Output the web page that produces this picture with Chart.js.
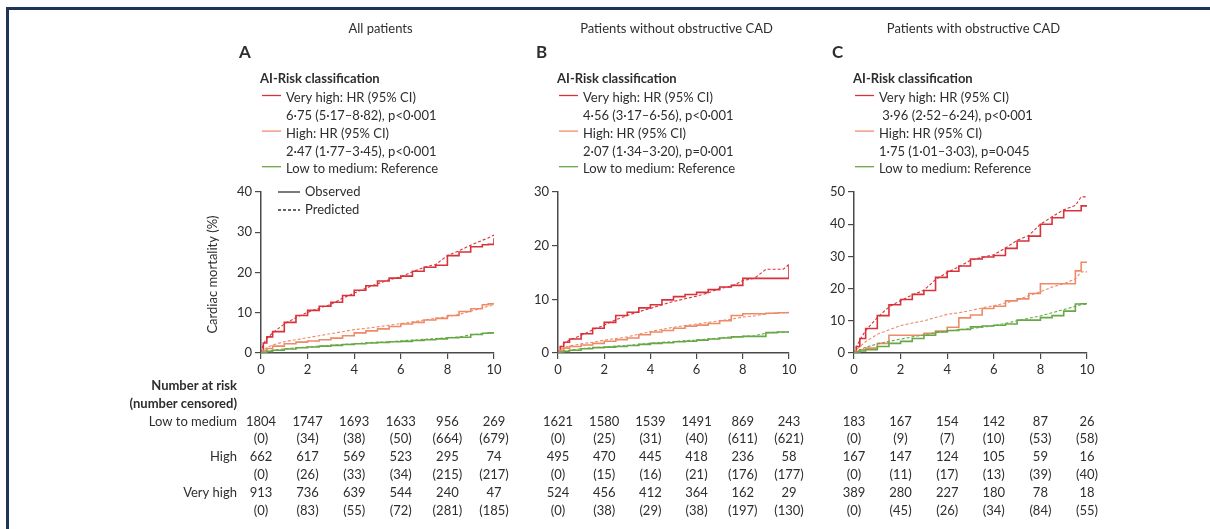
<!DOCTYPE html>
<html>
<head>
<meta charset="utf-8">
<script src="https://cdn.jsdelivr.net/npm/chart.js@4.4.1/dist/chart.umd.min.js"></script>
<style>
  html, body { margin: 0; padding: 0; background: #fff; }
  #page { position: relative; width: 1210px; height: 529px; overflow: hidden; background: #fff; }
  #frame { position: absolute; left: 6px; top: 7px; width: 1220px; height: 540px;
           border-top: 3px solid #1e3458; border-left: 3px solid #1e3458; }
  canvas { position: absolute; left: 0; top: 0; }
</style>
</head>
<body>
<div id="page">
  <div id="frame"></div>
  <canvas id="panelA" width="1210" height="529"></canvas>
  <canvas id="panelB" width="1210" height="529"></canvas>
  <canvas id="panelC" width="1210" height="529"></canvas>
</div>
<script>
// Follow-up time grid (years) shared by every curve
const years = [0, 0.1, 0.25, 0.5, 1, 1.5, 2, 2.5, 3, 3.5, 4, 4.5, 5, 5.5, 6, 6.5, 7, 7.5, 8, 8.5, 9, 9.5, 9.75, 10];
const xTicks = [0, 2, 4, 6, 8, 10];

// Cumulative cardiac mortality (%) — all patients
const allVeryHighObs  = [0, 2.5, 4.0, 5.3, 7.6, 9.3, 10.6, 11.6, 12.6, 14.3, 15.6, 16.7, 17.9, 18.6, 19.1, 20.3, 21.3, 21.8, 24.2, 25.1, 26.4, 26.9, 27.0, 28.5];
const allVeryHighPred = [0, 2.2, 3.6, 5.0, 7.2, 8.8, 10.1, 11.1, 12.1, 13.6, 14.9, 16.1, 17.2, 18.2, 18.9, 20.2, 21.3, 22.0, 24.2, 25.4, 26.8, 28.0, 28.6, 29.3];
const allHighObs      = [0, 0.6, 1.1, 1.7, 2.3, 2.7, 3.0, 3.3, 3.7, 4.3, 5.0, 5.5, 6.0, 6.6, 7.2, 7.6, 8.2, 8.6, 9.3, 10.3, 11.0, 12.0, 12.2, 12.3];
const allHighPred     = [0, 0.7, 1.3, 2.0, 2.8, 3.3, 3.8, 4.3, 4.8, 5.3, 5.8, 6.1, 6.5, 6.9, 7.3, 7.7, 8.2, 8.6, 9.0, 9.6, 10.4, 11.2, 11.6, 11.9];
const allLowObs       = [0, 0.2, 0.4, 0.7, 1.0, 1.3, 1.5, 1.7, 1.9, 2.1, 2.3, 2.5, 2.6, 2.8, 2.9, 3.1, 3.3, 3.5, 3.8, 3.9, 4.6, 4.9, 5.0, 5.0];
const allLowPred      = [0, 0.2, 0.4, 0.7, 1.0, 1.3, 1.5, 1.7, 1.9, 2.1, 2.3, 2.5, 2.7, 2.8, 3.0, 3.2, 3.4, 3.6, 3.8, 4.0, 4.5, 4.8, 4.9, 5.0];

// Patients without obstructive CAD
const noCadVeryHighObs  = [0, 1.2, 2.0, 2.6, 3.6, 4.6, 5.7, 7.0, 7.6, 8.4, 9.0, 9.9, 10.5, 10.9, 11.3, 11.8, 12.3, 12.6, 13.9, 13.9, 13.9, 13.9, 13.9, 16.3];
const noCadVeryHighPred = [0, 1.0, 1.8, 2.4, 3.3, 4.3, 5.2, 6.2, 7.0, 7.7, 8.3, 9.0, 9.6, 10.1, 10.6, 11.2, 12.0, 12.4, 13.5, 13.9, 15.6, 15.6, 15.6, 16.5];
const noCadHighObs      = [0, 0.5, 0.9, 1.2, 1.5, 1.8, 2.2, 2.5, 2.8, 3.4, 3.9, 4.2, 4.6, 5.0, 5.2, 5.5, 6.0, 7.0, 7.3, 7.3, 7.4, 7.5, 7.5, 7.5];
const noCadHighPred     = [0, 0.6, 1.0, 1.3, 1.7, 2.0, 2.4, 2.7, 3.0, 3.5, 4.0, 4.4, 4.8, 5.1, 5.4, 5.7, 6.0, 6.3, 6.7, 6.9, 7.3, 7.5, 7.5, 7.6];
const noCadLowObs       = [0, 0.2, 0.3, 0.5, 0.8, 1.0, 1.1, 1.2, 1.4, 1.6, 1.8, 1.9, 2.1, 2.2, 2.4, 2.6, 2.8, 3.0, 3.1, 3.1, 3.8, 3.9, 3.9, 3.9];
const noCadLowPred      = [0, 0.2, 0.3, 0.5, 0.8, 1.0, 1.1, 1.3, 1.4, 1.6, 1.8, 2.0, 2.1, 2.3, 2.4, 2.6, 2.8, 3.0, 3.1, 3.2, 3.7, 3.9, 3.9, 3.9];

// Patients with obstructive CAD
const cadVeryHighObs  = [0, 2.0, 4.5, 7.6, 11.6, 15.0, 16.6, 18.2, 19.4, 23.5, 25.4, 27.0, 29.2, 29.8, 30.3, 32.5, 34.8, 36.3, 40.0, 42.0, 44.2, 44.2, 45.7, 45.7];
const cadVeryHighPred = [0, 1.8, 4.0, 7.0, 11.0, 14.3, 16.3, 18.0, 19.5, 22.8, 25.0, 26.8, 28.8, 29.7, 30.5, 32.6, 35.0, 36.5, 40.0, 42.3, 44.5, 45.8, 48.5, 48.5];
const cadHighObs      = [0, 0.5, 1.0, 1.5, 3.0, 5.5, 5.5, 5.5, 6.1, 6.8, 8.0, 10.9, 11.8, 13.8, 14.5, 16.2, 16.8, 18.5, 21.5, 21.5, 21.5, 25.5, 28.2, 28.2];
const cadHighPred     = [0, 1.0, 2.0, 3.5, 5.8, 7.2, 8.5, 9.3, 10.0, 11.0, 12.0, 12.5, 13.2, 14.0, 14.7, 15.5, 16.5, 17.8, 19.0, 20.5, 21.5, 23.0, 25.2, 25.2];
const cadLowObs       = [0, 0.3, 0.6, 1.0, 2.0, 3.0, 3.6, 4.5, 5.5, 6.5, 7.0, 7.3, 8.1, 8.4, 8.6, 9.0, 10.2, 10.2, 11.0, 11.6, 13.0, 15.2, 15.3, 15.3];
const cadLowPred      = [0, 0.5, 1.0, 1.8, 2.8, 3.6, 4.3, 5.0, 5.6, 6.3, 6.8, 7.2, 7.6, 8.0, 8.5, 9.2, 10.0, 10.8, 11.5, 12.5, 13.5, 14.5, 15.0, 15.2];

// Number at risk / number censored at years 0, 2, 4, 6, 8, 10
const allRiskLow       = [1804, 1747, 1693, 1633, 956, 269];
const allCensLow       = [0, 34, 38, 50, 664, 679];
const allRiskHigh      = [662, 617, 569, 523, 295, 74];
const allCensHigh      = [0, 26, 33, 34, 215, 217];
const allRiskVeryHigh  = [913, 736, 639, 544, 240, 47];
const allCensVeryHigh  = [0, 83, 55, 72, 281, 185];

const noCadRiskLow      = [1621, 1580, 1539, 1491, 869, 243];
const noCadCensLow      = [0, 25, 31, 40, 611, 621];
const noCadRiskHigh     = [495, 470, 445, 418, 236, 58];
const noCadCensHigh     = [0, 15, 16, 21, 176, 177];
const noCadRiskVeryHigh = [524, 456, 412, 364, 162, 29];
const noCadCensVeryHigh = [0, 38, 29, 38, 197, 130];

const cadRiskLow       = [183, 167, 154, 142, 87, 26];
const cadCensLow       = [0, 9, 7, 10, 53, 58];
const cadRiskHigh      = [167, 147, 124, 105, 59, 16];
const cadCensHigh      = [0, 11, 17, 13, 39, 40];
const cadRiskVeryHigh  = [389, 280, 227, 180, 78, 18];
const cadCensVeryHigh  = [0, 45, 26, 34, 84, 55];

// Hazard ratio legend text
const allHrText   = ['6·75 (5·17–8·82), p<0·001', '2·47 (1·77–3·45), p<0·001'];
const noCadHrText = ['4·56 (3·17–6·56), p<0·001', '2·07 (1·34–3·20), p=0·001'];
const cadHrText   = [' 3·96 (2·52–6·24), p<0·001', '1·75 (1·01–3·03), p=0·045'];

const panelTitles  = ['All patients', 'Patients without obstructive CAD', 'Patients with obstructive CAD'];
const panelLetters = ['A', 'B', 'C'];
const riskGroups   = ['Low to medium', 'High', 'Very high'];

const COLORS = { veryHigh: '#d8323a', high: '#ee8a68', low: '#67a846' };
const TEXT = '#2e2e2e';
const AXIS = '#4a4a4a';
const FONT = 'Lato, "Open Sans", sans-serif';

Chart.defaults.font.family = FONT;
Chart.defaults.font.size = 13;
Chart.defaults.color = TEXT;

// Observed curves are Kaplan-Meier steps; predicted curves are dashed
function curve(vals, color, predicted) {
  return {
    data: years.map((t, i) => ({ x: t, y: vals[i] })),
    borderColor: color,
    backgroundColor: color,
    borderWidth: predicted ? 1.1 : 1.6,
    borderDash: predicted ? [3, 2] : [],
    stepped: predicted ? false : 'before',
    tension: 0,
    pointRadius: 0,
    fill: false
  };
}

// Titles, legends, axis title and risk table drawn around each plot
const panelDecor = {
  id: 'panelDecor',
  afterDraw(chart, args, o) {
    const ctx = chart.ctx;
    const ca = chart.chartArea;
    const xs = chart.scales.x;
    ctx.save();
    ctx.fillStyle = TEXT;
    ctx.textBaseline = 'middle';

    // panel title and letter
    ctx.font = '13px ' + FONT;
    ctx.textAlign = 'center';
    ctx.fillText(o.title, (ca.left + ca.right) / 2 + 3, 29);
    ctx.font = 'bold 17px ' + FONT;
    ctx.textAlign = 'left';
    ctx.fillText(o.letter, ca.left - 22, 53);

    // risk class legend
    ctx.font = 'bold 13px ' + FONT;
    ctx.fillText('AI-Risk classification', ca.left - 1, 79);
    ctx.font = '13px ' + FONT;
    const rows = [
      ['Very high: HR (95% CI)', COLORS.veryHigh],
      [o.hr[0], null],
      ['High: HR (95% CI)', COLORS.high],
      [o.hr[1], null],
      ['Low to medium: Reference', COLORS.low]
    ];
    rows.forEach((r, i) => {
      const y = 98 + i * 17.8;
      if (r[1]) {
        ctx.strokeStyle = r[1];
        ctx.lineWidth = 1.3;
        ctx.setLineDash([]);
        ctx.beginPath();
        ctx.moveTo(ca.left + 1, y - 2.5);
        ctx.lineTo(ca.left + 20, y - 2.5);
        ctx.stroke();
      }
      ctx.fillText(r[0], ca.left + 25, y);
    });

    // observed / predicted key
    if (o.lineKey) {
      [['Observed', []], ['Predicted', [3, 2]]].forEach((k, i) => {
        const y = 192 + i * 18;
        ctx.strokeStyle = '#333';
        ctx.lineWidth = 1.3;
        ctx.setLineDash(k[1]);
        ctx.beginPath();
        ctx.moveTo(ca.left + 17, y);
        ctx.lineTo(ca.left + 39, y);
        ctx.stroke();
        ctx.fillText(k[0], ca.left + 44, y);
      });
      ctx.setLineDash([]);
    }

    // y-axis title
    if (o.yTitle) {
      ctx.save();
      ctx.translate(213, (ca.top + ca.bottom) / 2 + 2);
      ctx.rotate(-Math.PI / 2);
      ctx.textAlign = 'center';
      ctx.fillText(o.yTitle, 0, 0);
      ctx.restore();
    }

    // number at risk table
    const rowY0 = 421.5, rowStep = 17.8;
    ctx.font = '13px ' + FONT;
    ctx.textAlign = 'center';
    o.table.forEach((row, r) => {
      row.vals.forEach((v, i) => {
        const txt = row.paren ? '(' + v + ')' : String(v);
        ctx.fillText(txt, xs.getPixelForValue(xTicks[i]), rowY0 + r * rowStep);
      });
    });

    // row headings (left-most panel only)
    if (o.rowLabels) {
      ctx.textAlign = 'right';
      ctx.font = 'bold 13px ' + FONT;
      ctx.fillText('Number at risk', 237, 386);
      ctx.fillText('(number censored)', 237, 403.5);
      ctx.font = '13px ' + FONT;
      riskGroups.forEach((g, i) => ctx.fillText(g, 237, rowY0 + i * 2 * rowStep));
    }
    ctx.restore();
  }
};

function makePanel(id, cfg) {
  const datasets = [
    curve(cfg.lowPred, COLORS.low, true),
    curve(cfg.lowObs, COLORS.low, false),
    curve(cfg.highPred, COLORS.high, true),
    curve(cfg.highObs, COLORS.high, false),
    curve(cfg.vhPred, COLORS.veryHigh, true),
    curve(cfg.vhObs, COLORS.veryHigh, false)
  ];
  new Chart(document.getElementById(id), {
    type: 'line',
    data: { datasets },
    plugins: [panelDecor],
    options: {
      responsive: false,
      animation: false,
      events: [],
      devicePixelRatio: 1,
      layout: { padding: cfg.padding },
      plugins: {
        legend: { display: false },
        tooltip: { enabled: false },
        title: { display: false },
        panelDecor: cfg.decor
      },
      scales: {
        x: {
          type: 'linear', min: 0, max: 10,
          afterFit: s => { s.height = 25; },
          afterBuildTicks: s => { s.ticks = xTicks.map(v => ({ value: v })); },
          grid: { drawOnChartArea: false, drawTicks: true, tickLength: 6, color: AXIS, lineWidth: 1.2 },
          border: { display: true, color: AXIS, width: 1.5 },
          ticks: { padding: 3, color: TEXT, font: { size: 13 }, maxRotation: 0 }
        },
        y: {
          type: 'linear', min: 0, max: cfg.yMax,
          afterFit: s => { s.width = 40; },
          grid: { drawOnChartArea: false, drawTicks: true, tickLength: 6, color: AXIS, lineWidth: 1.2 },
          border: { display: true, color: AXIS, width: 1.5 },
          ticks: { stepSize: 10, padding: 3, color: TEXT, font: { size: 13 } }
        }
      }
    }
  });
}

function tableRows(rl, cl, rh, ch, rv, cv) {
  return [
    { vals: rl }, { vals: cl, paren: true },
    { vals: rh }, { vals: ch, paren: true },
    { vals: rv }, { vals: cv, paren: true }
  ];
}

makePanel('panelA', {
  yMax: 40,
  padding: { left: 221, right: 716, top: 192, bottom: 151 },
  vhObs: allVeryHighObs, vhPred: allVeryHighPred,
  highObs: allHighObs, highPred: allHighPred,
  lowObs: allLowObs, lowPred: allLowPred,
  decor: {
    title: panelTitles[0], letter: panelLetters[0], hr: allHrText,
    lineKey: true, yTitle: 'Cardiac mortality (%)', rowLabels: true,
    table: tableRows(allRiskLow, allCensLow, allRiskHigh, allCensHigh, allRiskVeryHigh, allCensVeryHigh)
  }
});

makePanel('panelB', {
  yMax: 30,
  padding: { left: 518, right: 421, top: 192, bottom: 151 },
  vhObs: noCadVeryHighObs, vhPred: noCadVeryHighPred,
  highObs: noCadHighObs, highPred: noCadHighPred,
  lowObs: noCadLowObs, lowPred: noCadLowPred,
  decor: {
    title: panelTitles[1], letter: panelLetters[1], hr: noCadHrText,
    table: tableRows(noCadRiskLow, noCadCensLow, noCadRiskHigh, noCadCensHigh, noCadRiskVeryHigh, noCadCensVeryHigh)
  }
});

makePanel('panelC', {
  yMax: 50,
  padding: { left: 814, right: 123, top: 192, bottom: 151 },
  vhObs: cadVeryHighObs, vhPred: cadVeryHighPred,
  highObs: cadHighObs, highPred: cadHighPred,
  lowObs: cadLowObs, lowPred: cadLowPred,
  decor: {
    title: panelTitles[2], letter: panelLetters[2], hr: cadHrText,
    table: tableRows(cadRiskLow, cadCensLow, cadRiskHigh, cadCensHigh, cadRiskVeryHigh, cadCensVeryHigh)
  }
});
</script>
</body>
</html>
